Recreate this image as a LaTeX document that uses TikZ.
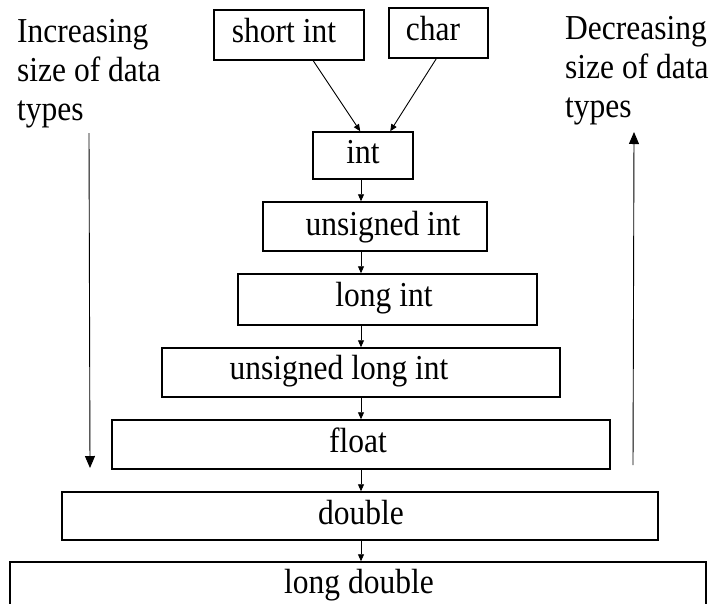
\documentclass[tikz,border=0pt]{standalone}
\usepackage{fontspec}
\setmainfont{Liberation Serif}[FakeStretch=0.9]
\usetikzlibrary{arrows.meta}
\begin{document}
\begin{tikzpicture}[x=1pt,y=-1pt,
  tbox/.style 2 args={draw=black, line width=1.5pt, rectangle, inner sep=0pt,
    minimum width=#1pt, minimum height=#2pt},
  txt/.style={font=\fontsize{35}{39}\selectfont, inner sep=0pt,
    text height=24.2pt, text depth=7.7pt},
  side/.style={font=\fontsize{35}{39}\selectfont, inner sep=0pt, align=left, anchor=north west},
  arr/.style={line width=0.9pt, -{Triangle[length=7pt,width=6pt]}},
  sidearr/.style={line width=0.9pt, -{Triangle[length=12pt,width=10pt]}}]
  \useasboundingbox (0,0) rectangle (719,603);
  \clip (0,0) rectangle (719,603);

  % type boxes, widening towards the bottom
  \node[tbox={150}{50}, label={[txt,xshift=-5pt,yshift=1.2pt]center:short int}] (short) at (289,35) {};
  \node[tbox={99}{50},  label={[txt,xshift=-5.5pt,yshift=1.2pt]center:char}] (char) at (438.5,33) {};
  \node[tbox={100}{47}, label={[txt,yshift=0.6pt]center:int}] (int) at (363,155.5) {};
  \node[tbox={224}{49}, label={[txt,xshift=8pt,yshift=-0.3pt]center:unsigned int}] (uint) at (375,226.5) {};
  \node[tbox={299}{51}, label={[txt,xshift=-3.5pt,yshift=1.7pt]center:long int}] (lint) at (387.5,299.5) {};
  \node[tbox={398}{49}, label={[txt,xshift=-22pt,yshift=1.7pt]center:unsigned long int}] (ulint) at (361,372.5) {};
  \node[tbox={498}{49}, label={[txt,xshift=-3pt,yshift=0.6pt]center:float}] (float) at (361,444.5) {};
  \node[tbox={596}{48}, label={[txt,xshift=1pt,yshift=0.2pt]center:double}] (double) at (360,516) {};
  \node[tbox={696}{58}, label={[txt,xshift=1pt,yshift=6.2pt]center:long double}] (ldouble) at (358,591) {};

  % conversions
  \draw[arr] ([xshift=100pt]short.south west) -- ([xshift=48pt]int.north west);
  \draw[arr] ([xshift=48pt]char.south west) -- ([xshift=78pt]int.north west);
  \coordinate (col) at (361,0);
  \draw[arr] (col |- int.south) -- (col |- uint.north);
  \draw[arr] (col |- uint.south) -- (col |- lint.north);
  \draw[arr] (col |- lint.south) -- (col |- ulint.north);
  \draw[arr] (col |- ulint.south) -- (col |- float.north);
  \draw[arr] (col |- float.south) -- (col |- double.north);
  \draw[arr] (col |- double.south) -- (col |- ldouble.north);

  % side captions and their arrows
  \node[side] (inc) at (17,19.3) {Increasing\\size of data\\types};
  \node[side] (dec) at (565,16.3) {Decreasing\\size of data\\types};
  \coordinate (lt) at (89,133);
  \coordinate (lb) at (90,468);
  \draw[sidearr] (lt) -- (lb);
  \coordinate (rb) at (633,465);
  \coordinate (rt) at (634,132);
  \draw[sidearr] (rb) -- (rt);
\end{tikzpicture}
\end{document}
